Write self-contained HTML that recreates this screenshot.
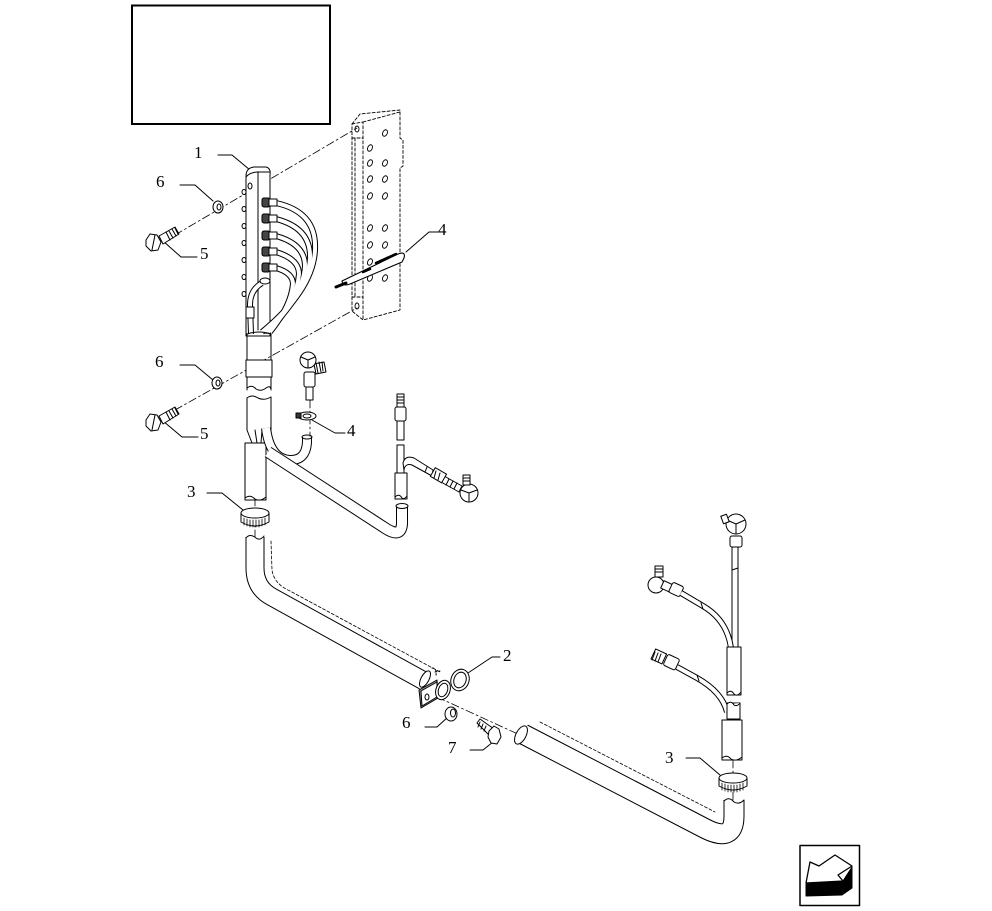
<!DOCTYPE html>
<html><head><meta charset="utf-8"><style>
html,body{margin:0;padding:0;background:#fff;}
svg{display:block;}
text{font-family:"Liberation Serif",serif;font-size:17px;fill:#000;}
</style></head><body>
<svg width="992" height="911" viewBox="0 0 992 911" xmlns="http://www.w3.org/2000/svg">
<rect x="0" y="0" width="992" height="911" fill="#fff"/>
<!-- title box -->
<rect x="132" y="5.5" width="198" height="118.5" fill="none" stroke="#000" stroke-width="2"/>

<g fill="none" stroke="#000" stroke-width="1" stroke-linecap="round" stroke-linejoin="round">
<!-- dash-dot centre lines -->
<g stroke-dasharray="8,3,2,3" stroke-width="0.8">
<path d="M175,235 L357,128"/>
<path d="M175,410 L357,308"/>
<path d="M255,498 L255,540"/>
<path d="M733,760 L733,800"/>
<path d="M437,697 L520,735"/>
<path d="M310,400 L310,436"/>
</g>

<!-- dashed panel (behind) -->
<g stroke-dasharray="3,2" stroke-width="0.9">
<path d="M352,124 L360,114 L400,110 L400,138 L403,140 L403,166 L400,168 L400,310 L363,320 L352,311 Z"/>
<path d="M352,124 L363,122 L363,320"/>
<path d="M363,122 L400,112"/>
<path d="M352,138 L363,138 M352,297 L363,297"/>
<path d="M355,138 L355,297"/>
<path d="M378,267 L395,260"/>
<path d="M338,287 L350,282"/>
</g>
<g stroke-width="0.9">
<ellipse cx="357" cy="129" rx="2" ry="3"/>
<ellipse cx="357" cy="306" rx="2" ry="3"/>
<ellipse cx="385" cy="133" rx="2.3" ry="3.4" transform="rotate(25 385 133)"/>
<ellipse cx="370" cy="148" rx="2.3" ry="3.4" transform="rotate(25 370 148)"/>
<ellipse cx="370" cy="163" rx="2.3" ry="3.4" transform="rotate(25 370 163)"/>
<ellipse cx="385" cy="163" rx="2.3" ry="3.4" transform="rotate(25 385 163)"/>
<ellipse cx="370" cy="179" rx="2.3" ry="3.4" transform="rotate(25 370 179)"/>
<ellipse cx="385" cy="179" rx="2.3" ry="3.4" transform="rotate(25 385 179)"/>
<ellipse cx="370" cy="196" rx="2.3" ry="3.4" transform="rotate(25 370 196)"/>
<ellipse cx="385" cy="196" rx="2.3" ry="3.4" transform="rotate(25 385 196)"/>
<ellipse cx="370" cy="228" rx="2.3" ry="3.4" transform="rotate(25 370 228)"/>
<ellipse cx="385" cy="228" rx="2.3" ry="3.4" transform="rotate(25 385 228)"/>
<ellipse cx="370" cy="245" rx="2.3" ry="3.4" transform="rotate(25 370 245)"/>
<ellipse cx="385" cy="245" rx="2.3" ry="3.4" transform="rotate(25 385 245)"/>
<ellipse cx="370" cy="262" rx="2.3" ry="3.4" transform="rotate(25 370 262)"/>
<ellipse cx="385" cy="262" rx="2.3" ry="3.4" transform="rotate(25 385 262)"/>
<ellipse cx="370" cy="278" rx="2.3" ry="3.4" transform="rotate(25 370 278)"/>
<ellipse cx="385" cy="278" rx="2.3" ry="3.4" transform="rotate(25 385 278)"/>
</g>
<!-- item 4 wire clip on panel -->
<path d="M342,281 L398,254 Q406,251 404,258 L402,262 L350,284 Q343,287 342,281" fill="#fff" stroke-width="1.1"/>
<path d="M376,263 L396,254" stroke-width="2.5" stroke-dasharray="2,1"/>
<path d="M336,287 L346,283" stroke-width="3"/>
<path d="M363,272 L370,269" stroke-width="2.5" stroke-dasharray="2,1"/>

<!-- labels leaders -->
<path d="M218,155 L232,155 L250,170"/>
<path d="M180,185 L195,185 L213,201"/>
<path d="M163,241 L181,257 L197,257"/>
<path d="M438,232 L429,232 L406,252"/>
<path d="M180,365 L195,365 L213,380"/>
<path d="M163,421 L182,437 L198,437"/>
<path d="M312,420 L335,433 L345,433"/>
<path d="M207,493 L222,493 L243,510"/>
<path d="M500,657 L492,657 L468,673"/>
<path d="M425,727 L437,727 L448,717"/>
<path d="M470,750 L483,750 L493,742"/>
<path d="M686,758 L700,758 L720,775"/>

<!-- washers 6 -->
<ellipse cx="218" cy="207" rx="5" ry="6" fill="#fff"/><ellipse cx="219" cy="207" rx="2" ry="3"/>
<ellipse cx="217" cy="383" rx="5" ry="6" fill="#fff"/><ellipse cx="218" cy="383" rx="2" ry="3"/>
<ellipse cx="451" cy="714" rx="6" ry="7" fill="#fff"/><ellipse cx="453" cy="713" rx="2.5" ry="4"/>

<!-- bolts 5 -->
<g fill="#fff">
<path d="M159,236 L175,227 L179,234 L163,244 Z"/>
<polygon points="146,240 150,234 157,235 161,242 158,250 151,251 146,246"/>
<path d="M155,235 L152,250"/>
<path d="M159,416 L175,407 L179,414 L163,424 Z"/>
<polygon points="146,420 150,414 157,415 161,422 158,430 151,431 146,426"/>
<path d="M155,415 L152,430"/>
</g>
<path d="M166,232 L170,240 M169,231 L173,238 M172,229 L176,236 M175,228 L178,234"/>
<path d="M166,412 L170,420 M169,411 L173,418 M172,409 L176,416 M175,408 L178,414"/>
<!-- bolt 7 -->
<path d="M477,723 L480,719 L494,729 L490,736 Z" fill="#fff"/>
<path d="M480,722 L478,727 M483,724 L481,729 M486,726 L484,731"/>
<polygon points="489,731 494,726 499,729 501,737 497,744 491,743 488,737" fill="#fff"/>

<!-- item 1 block -->
<path d="M246,176 Q246,168 254,167 L266,167 Q271,168 270,175 L270,336 L246,336 Z" fill="#fff"/>
<path d="M246,177 Q250,172 258,172 L270,172"/>
<path d="M258,172 L258,330"/>
<ellipse cx="250" cy="186" rx="2" ry="3"/>
<g>
<ellipse cx="244" cy="192" rx="2" ry="2.5" fill="#fff"/>
<ellipse cx="244" cy="209" rx="2" ry="2.5" fill="#fff"/>
<ellipse cx="244" cy="226" rx="2" ry="2.5" fill="#fff"/>
<ellipse cx="244" cy="243" rx="2" ry="2.5" fill="#fff"/>
<ellipse cx="244" cy="260" rx="2" ry="2.5" fill="#fff"/>
<ellipse cx="244" cy="277" rx="2" ry="2.5" fill="#fff"/>
<ellipse cx="244" cy="294" rx="2" ry="2.5" fill="#fff"/>
</g>

<!-- fanned hoses -->
<g stroke-linecap="butt">
<g stroke="#000" stroke-width="6">
<path d="M276,203 Q317,212 315,250 Q313,290 262,332"/>
<path d="M276,219 Q311,228 310,258 Q308,294 264,332"/>
<path d="M276,236 Q305,244 305,266 Q303,298 266,332"/>
<path d="M276,252 Q299,259 299,274 Q297,302 268,332"/>
<path d="M276,268 Q293,273 293,284 Q291,306 270,332"/>
<path d="M262,283 Q250,290 250,305 L251,334"/>
</g>
<g stroke="#fff" stroke-width="4">
<path d="M276,203 Q317,212 315,250 Q313,290 262,332"/>
<path d="M276,219 Q311,228 310,258 Q308,294 264,332"/>
<path d="M276,236 Q305,244 305,266 Q303,298 266,332"/>
<path d="M276,252 Q299,259 299,274 Q297,302 268,332"/>
<path d="M276,268 Q293,273 293,284 Q291,306 270,332"/>
<path d="M262,283 Q250,290 250,305 L251,334"/>
</g>
</g>
<!-- fittings on block -->
<g fill="#fff">
<rect x="262" y="198" width="8" height="9" rx="2" fill="#444"/><rect x="269" y="199" width="8" height="7"/>
<rect x="262" y="214" width="8" height="9" rx="2" fill="#444"/><rect x="269" y="215" width="8" height="7"/>
<rect x="262" y="231" width="8" height="9" rx="2" fill="#444"/><rect x="269" y="232" width="8" height="7"/>
<rect x="262" y="247" width="8" height="9" rx="2" fill="#444"/><rect x="269" y="248" width="8" height="7"/>
<rect x="262" y="263" width="8" height="9" rx="2" fill="#444"/><rect x="269" y="264" width="8" height="7"/>
<ellipse cx="265" cy="281" rx="5" ry="3"/>
<rect x="246" y="307" width="8" height="11"/>
</g>

<!-- main vertical tube upper -->
<path d="M247,334 L247,390 M271,334 L271,390"/>
<path d="M247,334 Q259,330 271,334"/>
<rect x="246" y="360" width="26" height="17" fill="#fff"/>
<path d="M247,388 Q252,384 256,389 Q261,392 266,388 Q270,385 271,389"/>
<!-- main vertical tube middle -->
<path d="M247,398 Q252,394 258,398 Q264,401 271,397"/>
<path d="M247,398 L247,430 M271,397 L271,430"/>
<path d="M247,430 L252,443 M255,430 L257,443 M262,430 L261,443 M268,430 L264,443 M271,430 L266,443"/>
<rect x="245" y="443" width="21" height="57" fill="#fff"/>
<path d="M245,498 Q250,494 255,499 Q260,502 266,497"/>

<!-- J hose -->
<g stroke-linecap="butt">
<path d="M266,428 Q270,460 291,460 Q308,460 307,437" stroke="#000" stroke-width="10"/>
<path d="M266,428 Q270,460 291,460 Q308,460 307,437" stroke="#fff" stroke-width="8"/>
</g>
<ellipse cx="307" cy="437" rx="5" ry="2"/>
<!-- long branch hose -->
<g stroke-linecap="butt">
<path d="M268,452 L385,528 Q403,540 402,520 L402,505" stroke="#000" stroke-width="12"/>
<path d="M268,452 L385,528 Q403,540 402,520 L402,505" stroke="#fff" stroke-width="10"/>
</g>
<ellipse cx="402" cy="506" rx="6" ry="2.5" fill="#fff"/>

<!-- fitting top middle (elbow 310,360) -->
<g fill="#fff">
<path d="M314,364 L324,362 L326,372 L316,374 Z"/>
<path d="M316,363 L318,373 M319,362 L321,372 M322,362 L323,371"/>
<circle cx="308" cy="360" r="8"/>
<path d="M301,357 L308,360 L315,357 M308,360 L308,368"/>
<rect x="304" y="372" width="11" height="15" rx="2"/>
<rect x="306" y="387" width="7" height="13"/>
<ellipse cx="307" cy="416" rx="9" ry="4"/>
<ellipse cx="307" cy="416" rx="4" ry="2"/>
<rect x="296" y="413" width="5" height="5" fill="#333"/>
</g>

<!-- fitting chain at x~400 -->
<g fill="#fff">
<rect x="397" y="394" width="7" height="13"/>
<path d="M397,397 L404,397 M397,400 L404,400 M397,403 L404,403"/>
<rect x="395" y="407" width="11" height="14" rx="2"/>
<rect x="397" y="421" width="7" height="19"/>
<rect x="397" y="445" width="7" height="28"/>
<path d="M403,463 Q405,455 414,458 L433,470 L432,476 L412,465 Q405,463 404,470 Z"/>
<path d="M427,467 L425,472"/>
<path d="M444,476 L462,486 L459,492 L441,482 Z"/>
<path d="M449,479 L446,485 M453,481 L450,487 M457,483 L454,489"/>
<rect x="432" y="470" width="13" height="10" transform="rotate(30 438 475)"/>
<path d="M436,471 L434,478 M440,473 L438,480"/>
<circle cx="469" cy="493" r="9"/>
<path d="M461,490 L469,493 L477,490 M469,493 L469,502"/>
<rect x="463" y="475" width="7" height="10"/>
<path d="M463,478 L470,478 M463,481 L470,481"/>
<rect x="395" y="473" width="12" height="26"/>
<path d="M395,497 Q399,493 402,498 Q404,500 407,496"/>
</g>

<!-- ring 3 left -->
<g fill="#fff">
<path d="M241,513 L241,522 Q255,530 269,522 L269,513"/>
<ellipse cx="255" cy="513" rx="14" ry="5"/>
</g>
<path d="M244,518 L244,525 M247,519 L247,526 M250,520 L250,527 M253,520 L253,527 M256,520 L256,527 M259,520 L259,527 M262,519 L262,526 M265,518 L265,525" stroke-width="0.8"/>
<!-- ring 3 right -->
<g fill="#fff">
<path d="M719,778 L719,786 Q733,794 747,786 L747,778"/>
<ellipse cx="733" cy="778" rx="14" ry="5"/>
</g>
<path d="M722,783 L722,790 M725,784 L725,791 M728,785 L728,792 M731,785 L731,792 M734,785 L734,792 M737,785 L737,792 M740,784 L740,791 M743,783 L743,790" stroke-width="0.8"/>

<!-- big L tube -->
<path d="M271,541 L272,570 Q274,584 290,591 L440,672" stroke-dasharray="3,2" stroke-width="0.8"/>
<g stroke-linecap="butt">
<path d="M255,537 L255,568 Q255,588 272,597 L424,681" stroke="#000" stroke-width="19"/>
<path d="M255,537 L255,568 Q255,588 272,597 L424,681" stroke="#fff" stroke-width="17"/>
</g>
<path d="M246,538 Q250,533 256,538 Q260,541 264,536"/>
<ellipse cx="425" cy="679" rx="4" ry="9" transform="rotate(28 425 679)" fill="#fff"/>
<path d="M432,668 Q437,668 436,675 M435,672 L440,671" stroke-dasharray="2,2"/>

<!-- bracket 2 -->
<g fill="#fff">
<path d="M419,690 L437,680 L438,698 L421,708 Z" fill="#999"/>
<path d="M421,691 L437,682 L437,697 L422,706 Z"/>
<ellipse cx="427" cy="697" rx="2" ry="3"/>
<ellipse cx="460" cy="680" rx="9" ry="11" transform="rotate(20 460 680)"/>
<ellipse cx="460" cy="680" rx="6" ry="8" transform="rotate(20 460 680)"/>
<ellipse cx="443" cy="690" rx="7" ry="10" transform="rotate(20 443 690)"/>
<ellipse cx="443" cy="690" rx="4.5" ry="7" transform="rotate(20 443 690)"/>
</g>

<!-- right long tube -->
<path d="M540,722 L715,812" stroke-dasharray="3,2" stroke-width="0.8"/>
<g stroke-linecap="butt">
<path d="M523,734 L706,829 Q734,843 734,816 L734,800" stroke="#000" stroke-width="21"/>
<path d="M523,734 L706,829 Q734,843 734,816 L734,800" stroke="#fff" stroke-width="19"/>
</g>
<ellipse cx="521" cy="735" rx="5" ry="10" transform="rotate(28 521 735)" fill="#fff"/>
<path d="M724,801 Q729,796 734,802 Q739,805 744,800"/>

<!-- right vertical assembly -->
<g fill="#fff">
<circle cx="736" cy="524" r="10"/>
<path d="M727,520 L736,524 L745,520 M736,524 L736,534"/>
<rect x="722" y="515" width="6" height="8" transform="rotate(-20 725 519)"/>
<rect x="730" y="536" width="12" height="11" rx="2"/>
<rect x="732" y="547" width="6" height="101"/>
<path d="M732,570 L738,568"/>
<rect x="655" y="566" width="8" height="11"/>
<path d="M655,569 L663,569 M655,572 L663,572"/>
<circle cx="656" cy="585" r="8"/>
<rect x="662" y="582" width="9" height="8" transform="rotate(25 666 586)"/>
<rect x="670" y="584" width="12" height="11" rx="2" transform="rotate(25 676 590)"/>
</g>
<g stroke-linecap="butt">
<path d="M681,593 L703,606 Q727,620 731,648" stroke="#000" stroke-width="6"/>
<path d="M681,593 L703,606 Q727,620 731,648" stroke="#fff" stroke-width="4"/>
<path d="M677,667 L697,678 Q722,692 727,712" stroke="#000" stroke-width="6"/>
<path d="M677,667 L697,678 Q722,692 727,712" stroke="#fff" stroke-width="4"/>
</g>
<path d="M701,603 L703,609 M697,675 L699,681"/>
<g fill="#fff">
<rect x="727" y="647" width="14" height="48"/>
<path d="M727,693 Q731,689 734,694 Q737,697 741,692"/>
<rect x="727" y="703" width="13" height="16"/>
<path d="M727,704 Q731,700 734,705 Q737,707 740,703"/>
<rect x="722" y="720" width="20" height="40"/>
<path d="M722,758 Q727,754 731,759 Q736,762 742,757"/>
<rect x="653" y="651" width="12" height="11" transform="rotate(25 659 656)"/>
<path d="M655,652 L652,660 M658,653 L655,661 M661,654 L658,662"/>
<rect x="665" y="656" width="13" height="12" rx="2" transform="rotate(25 671 662)"/>
</g>

<!-- direction icon -->
<rect x="800" y="845.5" width="59.5" height="60" stroke-width="1.5"/>
<polygon points="806,884 843,881 852,867 852,888 842,895 806,896" fill="#000"/>
<polygon points="806,883 810,862 819,866 835,855 852,866 838,875 843,881" fill="#fff" stroke-width="1.3"/>
</g>

<!-- labels -->
<text x="194" y="158">1</text>
<text x="156" y="187">6</text>
<text x="200" y="259">5</text>
<text x="438" y="235">4</text>
<text x="155" y="367">6</text>
<text x="200" y="439">5</text>
<text x="347" y="436">4</text>
<text x="187" y="497">3</text>
<text x="503" y="661">2</text>
<text x="402" y="728">6</text>
<text x="448" y="753">7</text>
<text x="665" y="763">3</text>
</svg>
</body></html>
